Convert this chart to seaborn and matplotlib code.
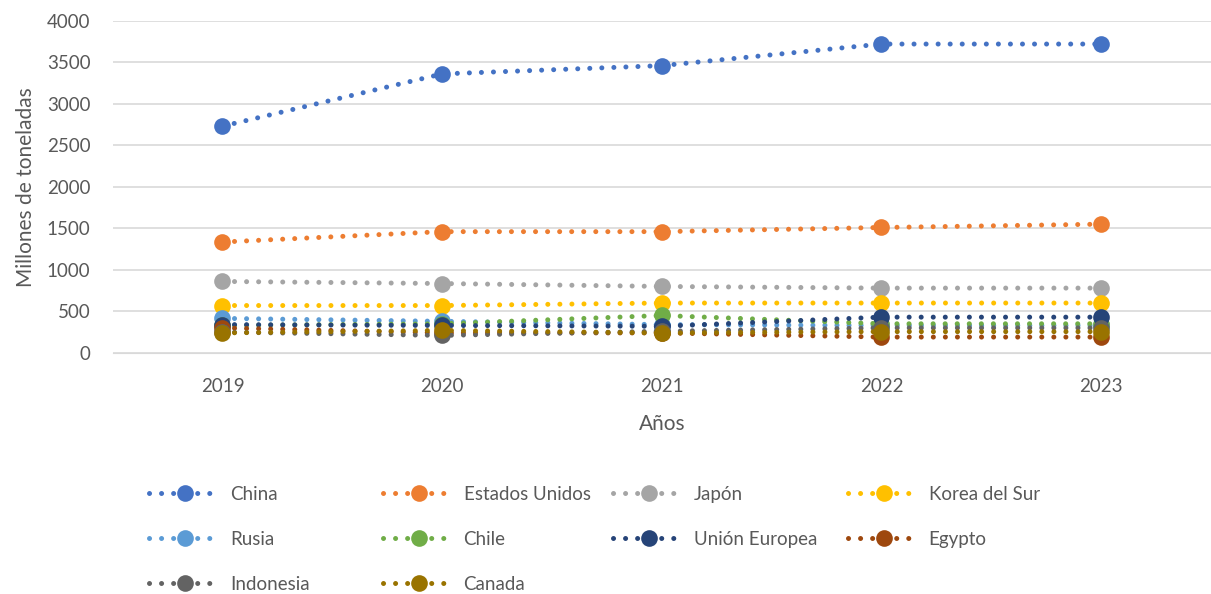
import pandas as pd
import matplotlib.pyplot as plt
import seaborn as sns

# datos (millones de toneladas)
years = ['2019', '2020', '2021', '2022', '2023']
paises = ['China', 'Estados Unidos', 'Japón', 'Korea del Sur', 'Rusia',
          'Chile', 'Unión Europea', 'Egypto', 'Indonesia', 'Canada']
china = [2730, 3360, 3460, 3720, 3720]
eeuu = [1335, 1460, 1460, 1510, 1550]
japon = [860, 835, 800, 780, 780]
korea = [570, 570, 600, 600, 600]
rusia = [415, 380, 340, 330, 330]
chile = [330, 350, 450, 350, 350]
ue = [340, 330, 320, 430, 430]
egypto = [300, 240, 240, 190, 190]
indonesia = [250, 210, 260, 300, 300]
canada = [240, 270, 240, 255, 255]
colores = ['#4472C4', '#ED7D31', '#A5A5A5', '#FFC000', '#5B9BD5',
           '#70AD47', '#264478', '#9E480E', '#636363', '#997300']

valores = [china, eeuu, japon, korea, rusia, chile, ue, egypto, indonesia, canada]
rows = []
for p, vals in zip(paises, valores):
    for i, v in enumerate(vals):
        rows.append({'pais': p, 'pos': i, 'valor': v})
df = pd.DataFrame(rows)

sns.set_style("white")
plt.rcParams['font.family'] = ['Lato', 'DejaVu Sans']
plt.rcParams['lines.dash_capstyle'] = 'round'
txt = '#595959'
punteado = (0, (0.01, 2.4))

fig = plt.figure(figsize=(12.11, 5.94), dpi=100)
ax = fig.add_axes([0.093, 0.406, 0.907, 0.559])

sns.lineplot(data=df, x='pos', y='valor', hue='pais', hue_order=paises,
             palette=colores, marker='o', markersize=12, markeredgewidth=0,
             linewidth=3.6, ax=ax, legend=True)
for ln in ax.get_lines():
    ln.set_linestyle(punteado)

ax.set_xlim(-0.5, 4.5)
ax.set_ylim(0, 4000)
ax.set_xticks(range(len(years)))
ax.set_xticklabels(years)
ax.set_yticks(range(0, 4001, 500))
ax.yaxis.grid(True, color='#D9D9D9', linewidth=1.2)
ax.tick_params(axis='both', colors=txt, labelsize=13.5, length=0)
ax.tick_params(axis='x', pad=18)
ax.tick_params(axis='y', pad=16)
for s in ['top', 'right', 'left']:
    ax.spines[s].set_visible(False)
ax.spines['bottom'].set_color('#D9D9D9')
ax.set_xlabel('Años', fontsize=15, color=txt, labelpad=14)
ax.set_ylabel('Millones de toneladas', fontsize=15, color=txt, labelpad=8)

# leyenda: 4 columnas fijas como en Excel
handles, labels = ax.get_legend_handles_labels()
ax.get_legend().remove()
for h in handles:
    h.set_linestyle(punteado)
columnas = [[0, 4, 8], [1, 5, 9], [2, 6], [3, 7]]
x_cols = [0.117, 0.310, 0.500, 0.694]
for xc, idx in zip(x_cols, columnas):
    fig.legend([handles[i] for i in idx], [labels[i] for i in idx],
               loc='upper left', bbox_to_anchor=(xc, 0.195),
               frameon=False, fontsize=13.5, labelcolor=txt, handlelength=3.8,
               handletextpad=0.5, labelspacing=1.5, borderaxespad=0)

fig.savefig('out.png', dpi=100)
